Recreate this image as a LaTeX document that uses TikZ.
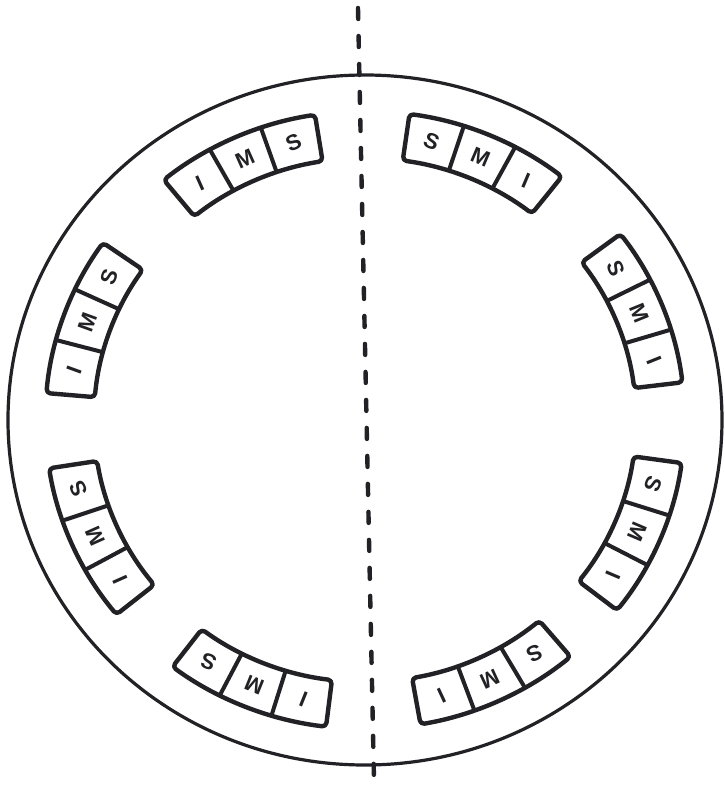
\documentclass[tikz,border=0pt]{standalone}
\usepackage{fontspec}
\setmainfont{Liberation Sans}
\begin{document}
\begin{tikzpicture}[x=1pt,y=1pt,
  blockline/.style={draw=ink, line width=4.4pt, rounded corners=4pt, line join=round},
  divline/.style={draw=ink, line width=4pt},
  letter/.style={text=ink, font=\fontsize{22}{22}\selectfont\bfseries, inner sep=0pt}]
\definecolor{ink}{RGB}{34,34,38}
\useasboundingbox[fill=white] (-365,-365) rectangle (360,420);
\draw[ink, line width=3.2pt] (0,0) ellipse[x radius=357, y radius=345];
\coordinate (top) at (-7,412);
\coordinate (bot) at (9,-360);
\draw[ink, line width=4.4pt, line cap=round, dash pattern=on 11pt off 17pt] (top) -- (bot);
\begin{scope}[xscale=1.035]
\foreach \ang/\a/\b/\c [count=\k] in {22/S/M/I, 67/S/M/I, 114/I/M/S, 160/I/M/S, 204/I/M/S, 248/I/M/S, 295/S/M/I, 337/S/M/I}{
  \draw[blockline] ({\ang+15}:262) arc[start angle={\ang+15}, end angle={\ang-15}, radius=262]
     -- ({\ang-15}:309) arc[start angle={\ang-15}, end angle={\ang+15}, radius=309] -- cycle;
  \draw[divline] ({\ang+5}:262) -- ({\ang+5}:309) ({\ang-5}:262) -- ({\ang-5}:309);
  \node[letter, rotate=\ang-90] (g\k a) at ({\ang+10}:285.5) {\a};
  \node[letter, rotate=\ang-90] (g\k b) at ({\ang}:285.5) {\b};
  \node[letter, rotate=\ang-90] (g\k c) at ({\ang-10}:285.5) {\c};
}
\end{scope}
\end{tikzpicture}
\end{document}
